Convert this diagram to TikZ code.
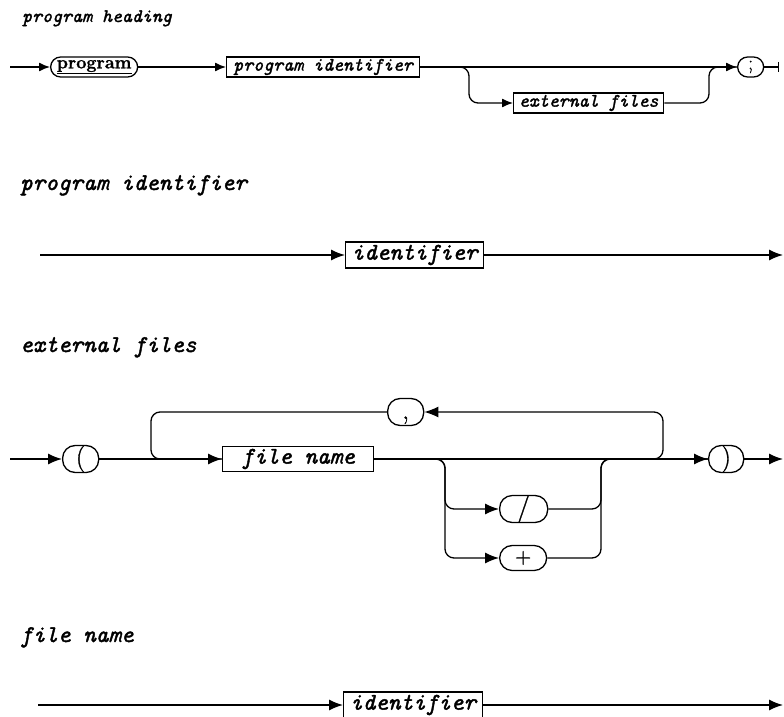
\documentclass[tikz,border=0pt]{standalone}
\usepackage{fontspec}
\usetikzlibrary{arrows.meta}

\newfontfamily\railfont{Latin Modern Mono}[FakeBold=1.6]
\newfontfamily\termfont{Latin Modern Roman}[FakeBold=1.2]

\tikzset{
  rail/.style={line width=1.3pt, rounded corners=9pt},
  railarrow/.style={rail, -{Latex[length=14pt,width=11pt]}},
  railarrowsm/.style={rail, -{Latex[length=11pt,width=9pt]}},
  nonterm/.style={draw, line width=1.3pt, inner sep=0pt, anchor=west, minimum height=26pt,
    font=\fontsize{24}{26}\selectfont\railfont\itshape},
  nontermsm/.style={nonterm, minimum height=20pt, font=\fontsize{19}{21}\selectfont\railfont\itshape},
  term/.style={draw, line width=1.3pt, inner sep=0pt, anchor=west, minimum height=25pt,
    rounded corners=12.5pt, font=\fontsize{27}{29}\selectfont\termfont},
  termsm/.style={term, minimum height=20pt, rounded corners=10pt, font=\fontsize{20}{22}\selectfont\termfont},
  diagtitle/.style={anchor=base west, inner sep=0pt, font=\fontsize{24}{26}\selectfont\railfont\itshape},
  diagtitlesm/.style={diagtitle, font=\fontsize{19}{21}\selectfont\railfont\itshape},
}

\begin{document}
\begin{tikzpicture}[x=1pt, y=-1pt]
\useasboundingbox (0,0) rectangle (784,717);

% ---------- program heading ----------
\node[diagtitlesm] (headtitle) at (22,22) {program heading};
\coordinate (headin) at (10,67);
\coordinate (headout) at (779,67);
\coordinate (headsplit) at (469,67);
\coordinate (headjoin) at (709,67);
\node[termsm, minimum width=87pt, font=\fontsize{18}{20}\selectfont\termfont\bfseries] (kwprog) at (50,67) {\underline{program}};
\node[nontermsm, minimum width=193pt] (progid) at (226,67) {program identifier};
\node[nontermsm, minimum width=150pt] (extfiles) at (513,103) {external files};
\node[termsm, minimum width=26pt] (semi) at (737,67) {;};

\draw[railarrowsm] (headin) -- (kwprog);
\draw[railarrowsm] (kwprog) -- (progid);
\draw[railarrowsm] (progid) -- (semi);
% optional external files
\draw[railarrowsm] (progid.east) -- (headsplit) |- (extfiles.west);
\draw[rail] (extfiles.east) -| (headjoin) -- (semi.west);
\draw[rail, -{Bar[width=10pt]}] (semi) -- (headout);

% ---------- program identifier ----------
\node[diagtitle] (pidtitle) at (20,190) {program identifier};
\coordinate (pidin) at (40,255);
\coordinate (pidout) at (783,255);
\node[nonterm, minimum width=138pt] (pidident) at (345,255) {identifier};
\draw[railarrow] (pidin) -- (pidident);
\draw[railarrow] (pidident) -- (pidout);

% ---------- external files ----------
\node[diagtitle] (exttitle) at (20,352) {external files};
\coordinate (extin) at (10,459);
\coordinate (extout) at (783,459);
\coordinate (loopleft) at (151,459);
\coordinate (loopright) at (663,459);
\coordinate (altleft) at (445,459);
\coordinate (altright) at (601,459);
\node[term, minimum width=36pt] (lpar) at (62,459) {(};
\node[nonterm, minimum width=151pt, minimum height=25pt] (fname) at (222,459) {file name};
\node[term, minimum width=35pt] (rpar) at (708,459) {)};
\node[term, minimum width=36pt] (comma) at (387,412) {\vphantom{(},};
\node[term, minimum width=48pt] (slash) at (499,509) {/};
\node[term, minimum width=47pt, font=\fontsize{22}{24}\selectfont\termfont] (plus) at (499,558) {+};

\draw[railarrow] (extin) -- (lpar);
\draw[railarrow] (lpar) -- (fname);
\draw[railarrow] (fname) -- (rpar);
\draw[railarrow] (rpar) -- (extout);
% repeat loop through the comma
\draw[railarrow] (fname.east) -- (loopright) |- (comma.east);
\draw[rail] (comma.west) -| (loopleft) -- (fname.west);
% optional / or +
\draw[railarrow] (fname.east) -- (altleft) |- (slash.west);
\draw[railarrow] (fname.east) -- (altleft) |- (plus.west);
\draw[rail] (slash.east) -| (altright) -- (rpar.west);
\draw[rail] (plus.east) -| (altright) -- (rpar.west);

% ---------- file name ----------
\node[diagtitle] (fntitle) at (20,642) {file name};
\coordinate (fnin) at (38,705);
\coordinate (fnout) at (783,705);
\node[nonterm, minimum width=139pt] (fnident) at (343,705) {identifier};
\draw[railarrow] (fnin) -- (fnident);
\draw[railarrow] (fnident) -- (fnout);

\end{tikzpicture}
\end{document}
